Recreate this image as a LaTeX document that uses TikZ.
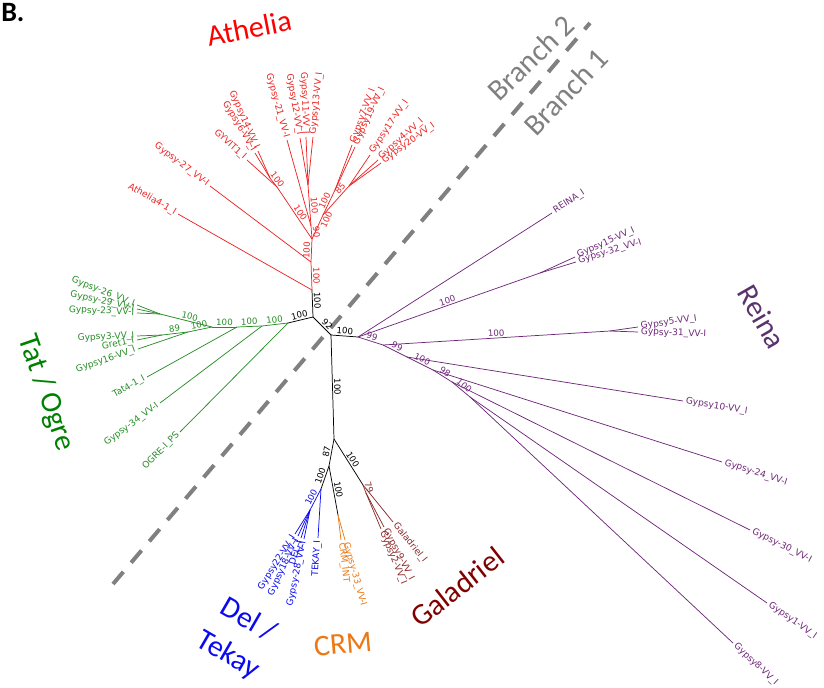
\documentclass[tikz,border=0pt]{standalone}
\usepackage{fontspec}
\setmainfont{Carlito}
\newfontfamily\leaffont{DejaVu Sans}
\usetikzlibrary{calc}

\definecolor{cRed}{RGB}{238,34,34}
\definecolor{cAth}{RGB}{255,0,0}
\definecolor{cGreen}{RGB}{40,140,40}
\definecolor{cTat}{RGB}{0,128,0}
\definecolor{cPurple}{RGB}{110,40,120}
\definecolor{cReina}{RGB}{90,50,110}
\definecolor{cBlue}{RGB}{10,10,240}
\definecolor{cOrange}{RGB}{235,120,20}
\definecolor{cBrown}{RGB}{140,40,40}
\definecolor{cGal}{RGB}{128,0,0}
\definecolor{cGray}{RGB}{128,128,128}

\tikzset{
  branch/.style={line width=0.55pt},
  leaflab/.style={font=\leaffont\fontsize{6.8}{8}\selectfont, inner sep=2pt},
  sup/.style={font=\leaffont\fontsize{6.5}{8}\selectfont, inner sep=1pt, sloped},
  clade/.style={font=\fontsize{22.5}{30}\selectfont, inner sep=0pt},
  divider/.style={cGray, line width=3pt, dash pattern=on 12pt off 9pt},
}

\newcommand\leafto[4]{%
  \coordinate (#2) at (#3);
  \draw[branch] (#1) -- (#2);
  \pgfpointdiff{\pgfpointanchor{#1}{center}}{\pgfpointanchor{#2}{center}}%
  \pgfgetlastxy\lfdx\lfdy
  \pgfmathsetmacro\gang{atan2(\lfdy,\lfdx)}%
  \ifdim\gang pt>90pt \pgfmathsetmacro\grot{\gang-180}\def\ganc{east}%
  \else\ifdim\gang pt<-90pt \pgfmathsetmacro\grot{\gang+180}\def\ganc{east}%
  \else\let\grot\gang\def\ganc{west}\fi\fi
  \node[leaflab,rotate=\grot,anchor=\ganc] (#2-l) at (#2) {#4};
}

\begin{document}
\begin{tikzpicture}[x=0.75pt,y=-0.75pt]
\useasboundingbox (0,0) rectangle (824,688);

% divider
\coordinate (dv1) at (113,584);
\coordinate (dv2) at (590,23);
\draw[divider] (dv1) -- (dv2);

% backbone
\coordinate (A) at (312,290);
\coordinate (B) at (313,317);
\coordinate (C) at (331,335);
\coordinate (D) at (358,337);
\coordinate (E) at (334,439);
\coordinate (F) at (329,466);
\coordinate (Bn) at (321,489);
\coordinate (On) at (338,515);
\coordinate (Gn) at (363,485);
\coordinate (G1) at (288,323);

\draw[branch] (A) -- node[sup,above,pos=0.4]{100} (B);
\draw[branch] (B) -- node[sup,above]{100} (G1);
\draw[branch] (B) -- node[sup,above,pos=0.6]{92} (C);
\draw[branch] (C) -- node[sup,above]{100} (D);
\draw[branch] (C) -- node[sup,above]{100} (E);
\draw[branch] (E) -- node[sup,above]{87} (F);
\draw[branch] (F) -- node[sup,above]{100} (Bn);
\draw[branch] (F) -- node[sup,above]{100} (On);
\draw[branch] (E) -- node[sup,above]{100} (Gn);

% Athelia (red)
\begin{scope}[color=cRed]
\coordinate (R2) at (311,262);
\coordinate (R3) at (312,239);
\coordinate (RL) at (277,187);
\coordinate (RLa) at (270,178);
\coordinate (R90) at (311,226);
\coordinate (RM) at (308,185);
\coordinate (RR) at (323,215);
\coordinate (RR7) at (335,190);
\coordinate (R85) at (349,186);
\draw[branch] (A) -- node[sup,above]{100} (R2);
\draw[branch] (R2) -- node[sup,above]{100} (R3);
\draw[branch] (R3) -- node[sup,above,pos=0.45]{100} (RL);
\draw[branch] (RL) -- node[sup,above]{100} (RLa);
\draw[branch] (R3) -- node[sup,above]{90} (R90);
\draw[branch] (R90) -- node[sup,above]{100} (RM);
\draw[branch] (R3) -- node[sup,below,pos=0.9]{100} (RR);
\draw[branch] (RR) -- node[sup,above]{100} (RR7);
\draw[branch] (RR) -- node[sup,above,pos=0.8]{85} (R85);
\leafto{A}{ath4}{178,214}{Athelia4-1\_I}
\leafto{R2}{gy27}{210,186}{Gypsy-27\_VV-I}
\leafto{RL}{gyvit}{247,160}{GYVIT1\_I}
\leafto{RLa}{gy6}{255,153}{Gypsy6-VV\_I}
\leafto{RLa}{gy14}{258,151}{Gypsy14-VV\_I}
\leafto{R90}{gy21}{287,140}{Gypsy-21\_VV-I}
\leafto{RM}{gy12}{300,138}{Gypsy12-VV\_I}
\leafto{RM}{gy11}{306,137}{Gypsy11-VV\_I}
\leafto{RM}{gy13}{313,137}{Gypsy13-VV\_I}
\leafto{RR7}{gy7}{352,145}{Gypsy7-VV\_I}
\leafto{RR7}{gy19}{355,147}{Gypsy19-VV\_I}
\leafto{R85}{gy17}{370,155}{Gypsy17-VV\_I}
\leafto{R85}{gy4}{378,160}{Gypsy4-VV\_I}
\leafto{R85}{gy20}{381,163}{Gypsy20-VV\_I}
\end{scope}

% Tat / Ogre (green)
\begin{scope}[color=cGreen]
\coordinate (G2) at (262,326);
\coordinate (G3) at (237,327);
\coordinate (G4) at (212,327);
\coordinate (G5) at (188,332);
\coordinate (G89) at (162,335);
\coordinate (Gu) at (160,314);
\draw[branch] (G1) -- node[sup,above]{100} (G2);
\draw[branch] (G2) -- node[sup,above]{100} (G3);
\draw[branch] (G3) -- node[sup,above]{100} (G4);
\draw[branch] (G4) -- node[sup,above]{100} (G5);
\draw[branch] (G4) -- node[sup,above,pos=0.45]{100} (Gu);
\draw[branch] (G5) -- node[sup,above]{89} (G89);
\leafto{G1}{ogre}{180,432}{OGRE-I\_PS}
\leafto{G2}{gy34}{160,403}{Gypsy-34\_VV-I}
\leafto{G3}{tat4}{147,377}{Tat4-1\_I}
\leafto{G5}{gy16}{138,349}{Gypsy16-VV\_I}
\leafto{G89}{gy3}{137,336}{Gypsy3-VV\_I}
\leafto{G89}{gret1}{137,340}{Gret1\_I}
\leafto{Gu}{gy26}{137,305}{Gypsy-26\_VV\_I}
\leafto{Gu}{gy29}{137,309}{Gypsy-29\_VV-I}
\leafto{Gu}{gy23}{137,313}{Gypsy-23\_VV-I}
\end{scope}

% Reina (purple)
\begin{scope}[color=cPurple]
\coordinate (P15) at (540,273);
\coordinate (P1) at (383,345);
\coordinate (P5n) at (610,331);
\coordinate (P2) at (407,357);
\coordinate (P3) at (433,370);
\coordinate (P4) at (452,382);
\coordinate (P5b) at (470,397);
\draw[branch] (D) -- node[sup,above,pos=0.5]{100} (P15);
\draw[branch] (D) -- node[sup,above]{99} (P1);
\draw[branch] (P1) -- node[sup,above,pos=0.5]{100} (P5n);
\draw[branch] (P1) -- node[sup,above]{99} (P2);
\draw[branch] (P2) -- node[sup,above]{100} (P3);
\draw[branch] (P3) -- node[sup,above]{98} (P4);
\draw[branch] (P4) -- node[sup,above]{100} (P5b);
\leafto{D}{reina}{552,213}{REINA\_I}
\leafto{P15}{gy15}{575,257}{Gypsy15-VV\_I}
\leafto{P15}{gy32}{576,262}{Gypsy-32\_VV-I}
\leafto{P5n}{gy5}{638,327}{Gypsy5-VV\_I}
\leafto{P5n}{gy31}{638,332}{Gypsy-31\_VV-I}
\leafto{P2}{gy10}{683,401}{Gypsy10-VV\_I}
\leafto{P3}{gy24}{722,462}{Gypsy-24\_VV-I}
\leafto{P4}{gy30}{750,530}{Gypsy-30\_VV-I}
\leafto{P5b}{gy1}{767,603}{Gypsy1-VV\_I}
\leafto{P5b}{gy8}{733,643}{Gypsy8-VV\_I}
\end{scope}

% Del / Tekay (blue)
\begin{scope}[color=cBlue]
\coordinate (Bd) at (310,510);
\draw[branch] (Bn) -- node[sup,above]{100} (Bd);
\leafto{Bn}{tekay}{318,538}{TEKAY\_I}
\leafto{Bd}{gy22}{295,534}{Gypsy22-VV\_I}
\leafto{Bd}{gy18}{298,536}{Gypsy18-VV\_I}
\leafto{Bd}{del}{301,538}{DEL\_I}
\leafto{Bd}{gy28}{304,539}{Gypsy-28\_VV-I}
\end{scope}

% CRM (orange)
\begin{scope}[color=cOrange]
\leafto{On}{gy33}{345,540}{Gypsy-33\_VV-I}
\leafto{On}{crmint}{341,540}{CRM\_INT}
\end{scope}

% Galadriel (brown)
\begin{scope}[color=cBrown]
\coordinate (G79) at (366,493);
\draw[branch] (Gn) -- node[sup,above]{79} (G79);
\leafto{Gn}{galI}{393,522}{Galadriel\_I}
\leafto{G79}{gy2}{381,529}{Gypsy2-VV\_I}
\leafto{G79}{gy9}{384,527}{Gypsy9-VV\_I}
\end{scope}

% clade titles
\node[clade, color=cAth, rotate=11] (lAth) at (249,28) {Athelia};
\node[clade, color=cGray, rotate=44] (lBr2) at (531,58) {Branch 2};
\node[clade, color=cGray, rotate=46] (lBr1) at (566,92) {Branch 1};
\node[clade, color=cReina, rotate=-60] (lReina) at (762,317) {Reina};
\node[clade, color=cTat, rotate=-71] (lTat) at (46,393) {Tat / Ogre};
\node[clade, color=cBlue, rotate=-30, align=center] (lDel) at (238,638) {Del /\\Tekay};
\node[clade, color=cOrange, rotate=5] (lCRM) at (343,644) {CRM};
\node[clade, color=cGal, rotate=38] (lGal) at (457,587) {Galadriel};
\node[font=\bfseries\fontsize{21}{26}\selectfont, anchor=base west, inner sep=0pt] (lB) at (1,22) {B.};
\end{tikzpicture}
\end{document}
